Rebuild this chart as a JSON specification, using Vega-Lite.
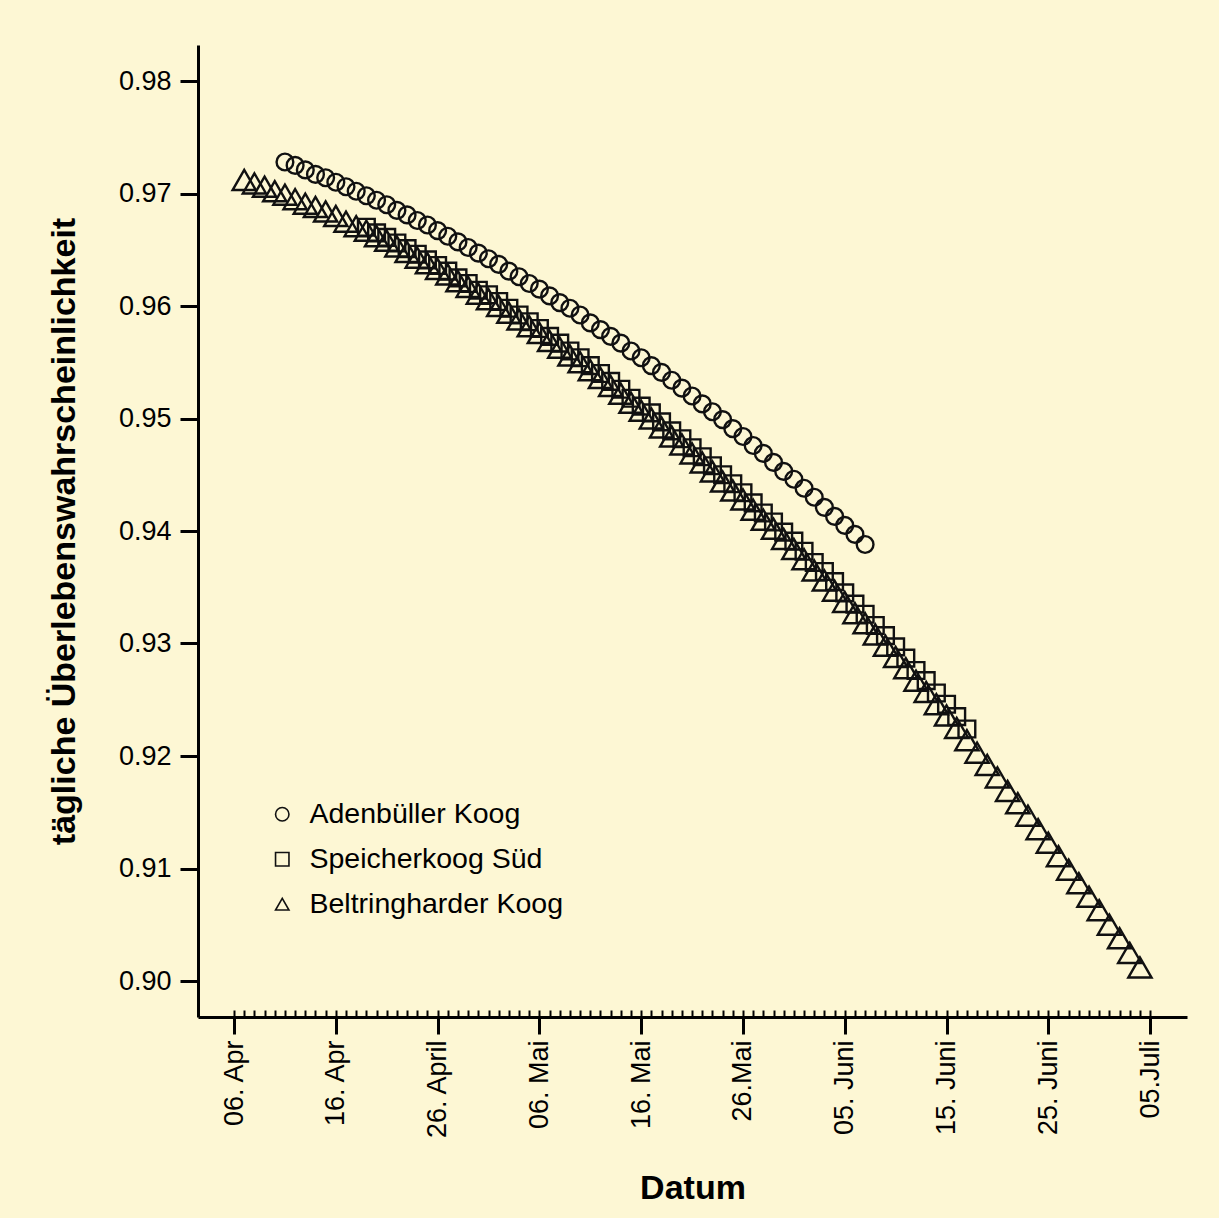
{
  "$schema": "https://vega.github.io/schema/vega-lite/v6.json",
  "width": 989,
  "height": 972,
  "autosize": {"type": "none"},
  "padding": {"left": 198, "top": 45, "right": 32, "bottom": 201},
  "background": "#FDF7D4",
  "config": {
    "view": {"stroke": null},
    "font": "Liberation Sans",
    "axis": {"labelFont": "Liberation Sans", "titleFont": "Liberation Sans", "labelColor": "#000", "titleColor": "#000", "domainColor": "#000", "tickColor": "#000", "grid": false},
    "legend": {"labelFont": "Liberation Sans", "labelColor": "#000"}
  },
  "data": {
    "values": [
      {"ort": "Adenbüller Koog", "datum": "2010-04-11", "p": 0.9728},
      {"ort": "Adenbüller Koog", "datum": "2010-04-12", "p": 0.9725},
      {"ort": "Adenbüller Koog", "datum": "2010-04-13", "p": 0.9721},
      {"ort": "Adenbüller Koog", "datum": "2010-04-14", "p": 0.9717},
      {"ort": "Adenbüller Koog", "datum": "2010-04-15", "p": 0.9714},
      {"ort": "Adenbüller Koog", "datum": "2010-04-16", "p": 0.9710},
      {"ort": "Adenbüller Koog", "datum": "2010-04-17", "p": 0.9706},
      {"ort": "Adenbüller Koog", "datum": "2010-04-18", "p": 0.9702},
      {"ort": "Adenbüller Koog", "datum": "2010-04-19", "p": 0.9698},
      {"ort": "Adenbüller Koog", "datum": "2010-04-20", "p": 0.9694},
      {"ort": "Adenbüller Koog", "datum": "2010-04-21", "p": 0.9690},
      {"ort": "Adenbüller Koog", "datum": "2010-04-22", "p": 0.9685},
      {"ort": "Adenbüller Koog", "datum": "2010-04-23", "p": 0.9681},
      {"ort": "Adenbüller Koog", "datum": "2010-04-24", "p": 0.9676},
      {"ort": "Adenbüller Koog", "datum": "2010-04-25", "p": 0.9672},
      {"ort": "Adenbüller Koog", "datum": "2010-04-26", "p": 0.9667},
      {"ort": "Adenbüller Koog", "datum": "2010-04-27", "p": 0.9662},
      {"ort": "Adenbüller Koog", "datum": "2010-04-28", "p": 0.9657},
      {"ort": "Adenbüller Koog", "datum": "2010-04-29", "p": 0.9652},
      {"ort": "Adenbüller Koog", "datum": "2010-04-30", "p": 0.9647},
      {"ort": "Adenbüller Koog", "datum": "2010-05-01", "p": 0.9642},
      {"ort": "Adenbüller Koog", "datum": "2010-05-02", "p": 0.9637},
      {"ort": "Adenbüller Koog", "datum": "2010-05-03", "p": 0.9631},
      {"ort": "Adenbüller Koog", "datum": "2010-05-04", "p": 0.9626},
      {"ort": "Adenbüller Koog", "datum": "2010-05-05", "p": 0.9620},
      {"ort": "Adenbüller Koog", "datum": "2010-05-06", "p": 0.9615},
      {"ort": "Adenbüller Koog", "datum": "2010-05-07", "p": 0.9609},
      {"ort": "Adenbüller Koog", "datum": "2010-05-08", "p": 0.9603},
      {"ort": "Adenbüller Koog", "datum": "2010-05-09", "p": 0.9598},
      {"ort": "Adenbüller Koog", "datum": "2010-05-10", "p": 0.9592},
      {"ort": "Adenbüller Koog", "datum": "2010-05-11", "p": 0.9585},
      {"ort": "Adenbüller Koog", "datum": "2010-05-12", "p": 0.9579},
      {"ort": "Adenbüller Koog", "datum": "2010-05-13", "p": 0.9573},
      {"ort": "Adenbüller Koog", "datum": "2010-05-14", "p": 0.9567},
      {"ort": "Adenbüller Koog", "datum": "2010-05-15", "p": 0.9560},
      {"ort": "Adenbüller Koog", "datum": "2010-05-16", "p": 0.9554},
      {"ort": "Adenbüller Koog", "datum": "2010-05-17", "p": 0.9547},
      {"ort": "Adenbüller Koog", "datum": "2010-05-18", "p": 0.9541},
      {"ort": "Adenbüller Koog", "datum": "2010-05-19", "p": 0.9534},
      {"ort": "Adenbüller Koog", "datum": "2010-05-20", "p": 0.9527},
      {"ort": "Adenbüller Koog", "datum": "2010-05-21", "p": 0.9520},
      {"ort": "Adenbüller Koog", "datum": "2010-05-22", "p": 0.9513},
      {"ort": "Adenbüller Koog", "datum": "2010-05-23", "p": 0.9506},
      {"ort": "Adenbüller Koog", "datum": "2010-05-24", "p": 0.9499},
      {"ort": "Adenbüller Koog", "datum": "2010-05-25", "p": 0.9491},
      {"ort": "Adenbüller Koog", "datum": "2010-05-26", "p": 0.9484},
      {"ort": "Adenbüller Koog", "datum": "2010-05-27", "p": 0.9476},
      {"ort": "Adenbüller Koog", "datum": "2010-05-28", "p": 0.9469},
      {"ort": "Adenbüller Koog", "datum": "2010-05-29", "p": 0.9461},
      {"ort": "Adenbüller Koog", "datum": "2010-05-30", "p": 0.9453},
      {"ort": "Adenbüller Koog", "datum": "2010-05-31", "p": 0.9446},
      {"ort": "Adenbüller Koog", "datum": "2010-06-01", "p": 0.9438},
      {"ort": "Adenbüller Koog", "datum": "2010-06-02", "p": 0.9430},
      {"ort": "Adenbüller Koog", "datum": "2010-06-03", "p": 0.9421},
      {"ort": "Adenbüller Koog", "datum": "2010-06-04", "p": 0.9413},
      {"ort": "Adenbüller Koog", "datum": "2010-06-05", "p": 0.9405},
      {"ort": "Adenbüller Koog", "datum": "2010-06-06", "p": 0.9397},
      {"ort": "Adenbüller Koog", "datum": "2010-06-07", "p": 0.9388},

      {"ort": "Speicherkoog Süd", "datum": "2010-04-19", "p": 0.9670},
      {"ort": "Speicherkoog Süd", "datum": "2010-04-20", "p": 0.9665},
      {"ort": "Speicherkoog Süd", "datum": "2010-04-21", "p": 0.9661},
      {"ort": "Speicherkoog Süd", "datum": "2010-04-22", "p": 0.9656},
      {"ort": "Speicherkoog Süd", "datum": "2010-04-23", "p": 0.9651},
      {"ort": "Speicherkoog Süd", "datum": "2010-04-24", "p": 0.9646},
      {"ort": "Speicherkoog Süd", "datum": "2010-04-25", "p": 0.9641},
      {"ort": "Speicherkoog Süd", "datum": "2010-04-26", "p": 0.9636},
      {"ort": "Speicherkoog Süd", "datum": "2010-04-27", "p": 0.9631},
      {"ort": "Speicherkoog Süd", "datum": "2010-04-28", "p": 0.9625},
      {"ort": "Speicherkoog Süd", "datum": "2010-04-29", "p": 0.9620},
      {"ort": "Speicherkoog Süd", "datum": "2010-04-30", "p": 0.9614},
      {"ort": "Speicherkoog Süd", "datum": "2010-05-01", "p": 0.9610},
      {"ort": "Speicherkoog Süd", "datum": "2010-05-02", "p": 0.9604},
      {"ort": "Speicherkoog Süd", "datum": "2010-05-03", "p": 0.9598},
      {"ort": "Speicherkoog Süd", "datum": "2010-05-04", "p": 0.9592},
      {"ort": "Speicherkoog Süd", "datum": "2010-05-05", "p": 0.9586},
      {"ort": "Speicherkoog Süd", "datum": "2010-05-06", "p": 0.9580},
      {"ort": "Speicherkoog Süd", "datum": "2010-05-07", "p": 0.9573},
      {"ort": "Speicherkoog Süd", "datum": "2010-05-08", "p": 0.9567},
      {"ort": "Speicherkoog Süd", "datum": "2010-05-09", "p": 0.9560},
      {"ort": "Speicherkoog Süd", "datum": "2010-05-10", "p": 0.9554},
      {"ort": "Speicherkoog Süd", "datum": "2010-05-11", "p": 0.9547},
      {"ort": "Speicherkoog Süd", "datum": "2010-05-12", "p": 0.9540},
      {"ort": "Speicherkoog Süd", "datum": "2010-05-13", "p": 0.9533},
      {"ort": "Speicherkoog Süd", "datum": "2010-05-14", "p": 0.9526},
      {"ort": "Speicherkoog Süd", "datum": "2010-05-15", "p": 0.9518},
      {"ort": "Speicherkoog Süd", "datum": "2010-05-16", "p": 0.9511},
      {"ort": "Speicherkoog Süd", "datum": "2010-05-17", "p": 0.9505},
      {"ort": "Speicherkoog Süd", "datum": "2010-05-18", "p": 0.9497},
      {"ort": "Speicherkoog Süd", "datum": "2010-05-19", "p": 0.9489},
      {"ort": "Speicherkoog Süd", "datum": "2010-05-20", "p": 0.9482},
      {"ort": "Speicherkoog Süd", "datum": "2010-05-21", "p": 0.9474},
      {"ort": "Speicherkoog Süd", "datum": "2010-05-22", "p": 0.9466},
      {"ort": "Speicherkoog Süd", "datum": "2010-05-23", "p": 0.9458},
      {"ort": "Speicherkoog Süd", "datum": "2010-05-24", "p": 0.9450},
      {"ort": "Speicherkoog Süd", "datum": "2010-05-25", "p": 0.9442},
      {"ort": "Speicherkoog Süd", "datum": "2010-05-26", "p": 0.9434},
      {"ort": "Speicherkoog Süd", "datum": "2010-05-27", "p": 0.9425},
      {"ort": "Speicherkoog Süd", "datum": "2010-05-28", "p": 0.9416},
      {"ort": "Speicherkoog Süd", "datum": "2010-05-29", "p": 0.9408},
      {"ort": "Speicherkoog Süd", "datum": "2010-05-30", "p": 0.9399},
      {"ort": "Speicherkoog Süd", "datum": "2010-05-31", "p": 0.9391},
      {"ort": "Speicherkoog Süd", "datum": "2010-06-01", "p": 0.9382},
      {"ort": "Speicherkoog Süd", "datum": "2010-06-02", "p": 0.9372},
      {"ort": "Speicherkoog Süd", "datum": "2010-06-03", "p": 0.9364},
      {"ort": "Speicherkoog Süd", "datum": "2010-06-04", "p": 0.9355},
      {"ort": "Speicherkoog Süd", "datum": "2010-06-05", "p": 0.9345},
      {"ort": "Speicherkoog Süd", "datum": "2010-06-06", "p": 0.9335},
      {"ort": "Speicherkoog Süd", "datum": "2010-06-07", "p": 0.9326},
      {"ort": "Speicherkoog Süd", "datum": "2010-06-08", "p": 0.9316},
      {"ort": "Speicherkoog Süd", "datum": "2010-06-09", "p": 0.9307},
      {"ort": "Speicherkoog Süd", "datum": "2010-06-10", "p": 0.9297},
      {"ort": "Speicherkoog Süd", "datum": "2010-06-11", "p": 0.9287},
      {"ort": "Speicherkoog Süd", "datum": "2010-06-12", "p": 0.9276},
      {"ort": "Speicherkoog Süd", "datum": "2010-06-13", "p": 0.9267},
      {"ort": "Speicherkoog Süd", "datum": "2010-06-14", "p": 0.9256},
      {"ort": "Speicherkoog Süd", "datum": "2010-06-15", "p": 0.9246},
      {"ort": "Speicherkoog Süd", "datum": "2010-06-16", "p": 0.9235},
      {"ort": "Speicherkoog Süd", "datum": "2010-06-17", "p": 0.9224},

      {"ort": "Beltringharder Koog", "datum": "2010-04-07", "p": 0.9712},
      {"ort": "Beltringharder Koog", "datum": "2010-04-08", "p": 0.9709},
      {"ort": "Beltringharder Koog", "datum": "2010-04-09", "p": 0.9706},
      {"ort": "Beltringharder Koog", "datum": "2010-04-10", "p": 0.9702},
      {"ort": "Beltringharder Koog", "datum": "2010-04-11", "p": 0.9699},
      {"ort": "Beltringharder Koog", "datum": "2010-04-12", "p": 0.9695},
      {"ort": "Beltringharder Koog", "datum": "2010-04-13", "p": 0.9691},
      {"ort": "Beltringharder Koog", "datum": "2010-04-14", "p": 0.9688},
      {"ort": "Beltringharder Koog", "datum": "2010-04-15", "p": 0.9684},
      {"ort": "Beltringharder Koog", "datum": "2010-04-16", "p": 0.9680},
      {"ort": "Beltringharder Koog", "datum": "2010-04-17", "p": 0.9675},
      {"ort": "Beltringharder Koog", "datum": "2010-04-18", "p": 0.9671},
      {"ort": "Beltringharder Koog", "datum": "2010-04-19", "p": 0.9667},
      {"ort": "Beltringharder Koog", "datum": "2010-04-20", "p": 0.9662},
      {"ort": "Beltringharder Koog", "datum": "2010-04-21", "p": 0.9658},
      {"ort": "Beltringharder Koog", "datum": "2010-04-22", "p": 0.9653},
      {"ort": "Beltringharder Koog", "datum": "2010-04-23", "p": 0.9648},
      {"ort": "Beltringharder Koog", "datum": "2010-04-24", "p": 0.9643},
      {"ort": "Beltringharder Koog", "datum": "2010-04-25", "p": 0.9638},
      {"ort": "Beltringharder Koog", "datum": "2010-04-26", "p": 0.9633},
      {"ort": "Beltringharder Koog", "datum": "2010-04-27", "p": 0.9628},
      {"ort": "Beltringharder Koog", "datum": "2010-04-28", "p": 0.9622},
      {"ort": "Beltringharder Koog", "datum": "2010-04-29", "p": 0.9617},
      {"ort": "Beltringharder Koog", "datum": "2010-04-30", "p": 0.9611},
      {"ort": "Beltringharder Koog", "datum": "2010-05-01", "p": 0.9606},
      {"ort": "Beltringharder Koog", "datum": "2010-05-02", "p": 0.9600},
      {"ort": "Beltringharder Koog", "datum": "2010-05-03", "p": 0.9594},
      {"ort": "Beltringharder Koog", "datum": "2010-05-04", "p": 0.9588},
      {"ort": "Beltringharder Koog", "datum": "2010-05-05", "p": 0.9582},
      {"ort": "Beltringharder Koog", "datum": "2010-05-06", "p": 0.9576},
      {"ort": "Beltringharder Koog", "datum": "2010-05-07", "p": 0.9569},
      {"ort": "Beltringharder Koog", "datum": "2010-05-08", "p": 0.9563},
      {"ort": "Beltringharder Koog", "datum": "2010-05-09", "p": 0.9556},
      {"ort": "Beltringharder Koog", "datum": "2010-05-10", "p": 0.9550},
      {"ort": "Beltringharder Koog", "datum": "2010-05-11", "p": 0.9543},
      {"ort": "Beltringharder Koog", "datum": "2010-05-12", "p": 0.9536},
      {"ort": "Beltringharder Koog", "datum": "2010-05-13", "p": 0.9529},
      {"ort": "Beltringharder Koog", "datum": "2010-05-14", "p": 0.9522},
      {"ort": "Beltringharder Koog", "datum": "2010-05-15", "p": 0.9514},
      {"ort": "Beltringharder Koog", "datum": "2010-05-16", "p": 0.9507},
      {"ort": "Beltringharder Koog", "datum": "2010-05-17", "p": 0.9500},
      {"ort": "Beltringharder Koog", "datum": "2010-05-18", "p": 0.9492},
      {"ort": "Beltringharder Koog", "datum": "2010-05-19", "p": 0.9484},
      {"ort": "Beltringharder Koog", "datum": "2010-05-20", "p": 0.9477},
      {"ort": "Beltringharder Koog", "datum": "2010-05-21", "p": 0.9469},
      {"ort": "Beltringharder Koog", "datum": "2010-05-22", "p": 0.9461},
      {"ort": "Beltringharder Koog", "datum": "2010-05-23", "p": 0.9453},
      {"ort": "Beltringharder Koog", "datum": "2010-05-24", "p": 0.9444},
      {"ort": "Beltringharder Koog", "datum": "2010-05-25", "p": 0.9436},
      {"ort": "Beltringharder Koog", "datum": "2010-05-26", "p": 0.9428},
      {"ort": "Beltringharder Koog", "datum": "2010-05-27", "p": 0.9419},
      {"ort": "Beltringharder Koog", "datum": "2010-05-28", "p": 0.9410},
      {"ort": "Beltringharder Koog", "datum": "2010-05-29", "p": 0.9402},
      {"ort": "Beltringharder Koog", "datum": "2010-05-30", "p": 0.9393},
      {"ort": "Beltringharder Koog", "datum": "2010-05-31", "p": 0.9384},
      {"ort": "Beltringharder Koog", "datum": "2010-06-01", "p": 0.9375},
      {"ort": "Beltringharder Koog", "datum": "2010-06-02", "p": 0.9365},
      {"ort": "Beltringharder Koog", "datum": "2010-06-03", "p": 0.9356},
      {"ort": "Beltringharder Koog", "datum": "2010-06-04", "p": 0.9347},
      {"ort": "Beltringharder Koog", "datum": "2010-06-05", "p": 0.9337},
      {"ort": "Beltringharder Koog", "datum": "2010-06-06", "p": 0.9327},
      {"ort": "Beltringharder Koog", "datum": "2010-06-07", "p": 0.9318},
      {"ort": "Beltringharder Koog", "datum": "2010-06-08", "p": 0.9308},
      {"ort": "Beltringharder Koog", "datum": "2010-06-09", "p": 0.9298},
      {"ort": "Beltringharder Koog", "datum": "2010-06-10", "p": 0.9288},
      {"ort": "Beltringharder Koog", "datum": "2010-06-11", "p": 0.9278},
      {"ort": "Beltringharder Koog", "datum": "2010-06-12", "p": 0.9267},
      {"ort": "Beltringharder Koog", "datum": "2010-06-13", "p": 0.9257},
      {"ort": "Beltringharder Koog", "datum": "2010-06-14", "p": 0.9246},
      {"ort": "Beltringharder Koog", "datum": "2010-06-15", "p": 0.9236},
      {"ort": "Beltringharder Koog", "datum": "2010-06-16", "p": 0.9225},
      {"ort": "Beltringharder Koog", "datum": "2010-06-17", "p": 0.9214},
      {"ort": "Beltringharder Koog", "datum": "2010-06-18", "p": 0.9203},
      {"ort": "Beltringharder Koog", "datum": "2010-06-19", "p": 0.9192},
      {"ort": "Beltringharder Koog", "datum": "2010-06-20", "p": 0.9181},
      {"ort": "Beltringharder Koog", "datum": "2010-06-21", "p": 0.9169},
      {"ort": "Beltringharder Koog", "datum": "2010-06-22", "p": 0.9158},
      {"ort": "Beltringharder Koog", "datum": "2010-06-23", "p": 0.9147},
      {"ort": "Beltringharder Koog", "datum": "2010-06-24", "p": 0.9135},
      {"ort": "Beltringharder Koog", "datum": "2010-06-25", "p": 0.9123},
      {"ort": "Beltringharder Koog", "datum": "2010-06-26", "p": 0.9111},
      {"ort": "Beltringharder Koog", "datum": "2010-06-27", "p": 0.9099},
      {"ort": "Beltringharder Koog", "datum": "2010-06-28", "p": 0.9087},
      {"ort": "Beltringharder Koog", "datum": "2010-06-29", "p": 0.9075},
      {"ort": "Beltringharder Koog", "datum": "2010-06-30", "p": 0.9063},
      {"ort": "Beltringharder Koog", "datum": "2010-07-01", "p": 0.9050},
      {"ort": "Beltringharder Koog", "datum": "2010-07-02", "p": 0.9038},
      {"ort": "Beltringharder Koog", "datum": "2010-07-03", "p": 0.9025},
      {"ort": "Beltringharder Koog", "datum": "2010-07-04", "p": 0.9012}
    ]
  },
  "layer": [
    {
      "mark": {"type": "point", "filled": false, "color": "#111", "strokeWidth": 2.4, "opacity": 1},
      "encoding": {
        "x": {
          "field": "datum", "type": "temporal",
          "scale": {"type": "utc", "domain": [{"year": 2010, "month": 4, "date": 2, "hours": 11, "utc": true}, {"year": 2010, "month": 7, "date": 8, "hours": 15, "utc": true}], "nice": false},
          "axis": {
            "orient": "bottom",
            "values": [
              {"year": 2010, "month": 4, "date": 6, "utc": true},
              {"year": 2010, "month": 4, "date": 16, "utc": true},
              {"year": 2010, "month": 4, "date": 26, "utc": true},
              {"year": 2010, "month": 5, "date": 6, "utc": true},
              {"year": 2010, "month": 5, "date": 16, "utc": true},
              {"year": 2010, "month": 5, "date": 26, "utc": true},
              {"year": 2010, "month": 6, "date": 5, "utc": true},
              {"year": 2010, "month": 6, "date": 15, "utc": true},
              {"year": 2010, "month": 6, "date": 25, "utc": true},
              {"year": 2010, "month": 7, "date": 5, "utc": true}
            ],
            "labelExpr": "['06. Apr','16. Apr','26. April','06. Mai','16. Mai','26.Mai','05. Juni','15. Juni','25. Juni','05.Juli'][round((datum.value - utc(2010,3,6))/864000000)]",
            "labelAngle": -90, "labelAlign": "right", "labelBaseline": "middle",
            "labelFontSize": 27, "labelPadding": 6, "labelOverlap": false, "labelFlush": false,
            "tickSize": 17, "tickWidth": 3, "domainWidth": 3,
            "title": "Datum", "titleFontSize": 34, "titleFontWeight": "bold", "titlePadding": 32
          }
        },
        "y": {
          "field": "p", "type": "quantitative",
          "scale": {"domain": [0.8968, 0.9832], "nice": false, "zero": false},
          "axis": {
            "values": [0.90, 0.91, 0.92, 0.93, 0.94, 0.95, 0.96, 0.97, 0.98],
            "format": ".2f",
            "labelFontSize": 27, "labelPadding": 9,
            "tickSize": 18, "tickWidth": 3, "domainWidth": 3,
            "title": "tägliche Überlebenswahrscheinlichkeit", "titleFontSize": 34, "titleFontWeight": "bold", "titlePadding": 37
          }
        },
        "shape": {
          "field": "ort", "type": "nominal",
          "scale": {"domain": ["Adenbüller Koog", "Speicherkoog Süd", "Beltringharder Koog"], "range": ["circle", "square", "triangle-up"]},
          "legend": {
            "orient": "none", "legendX": 70, "legendY": 755,
            "title": null, "padding": 0,
            "labelFontSize": 28.5, "labelOffset": 13, "labelLimit": 0, "rowPadding": 16,
            "symbolSize": 180, "symbolStrokeColor": "#111", "symbolFillColor": "transparent", "symbolStrokeWidth": 1.6
          }
        },
        "size": {
          "condition": {"test": "datum.ort === 'Beltringharder Koog'", "value": 540},
          "value": 280
        }
      }
    },
    {
      "mark": {"type": "point", "opacity": 0},
      "encoding": {
        "x": {
          "field": "datum", "type": "temporal",
          "axis": {
            "orient": "bottom",
            "labels": false, "domain": false, "title": null,
            "tickSize": -7, "tickWidth": 2,
            "values": [
              {"year": 2010, "month": 4, "date": 6, "utc": true}, {"year": 2010, "month": 4, "date": 7, "utc": true}, {"year": 2010, "month": 4, "date": 8, "utc": true}, {"year": 2010, "month": 4, "date": 9, "utc": true}, {"year": 2010, "month": 4, "date": 10, "utc": true},
              {"year": 2010, "month": 4, "date": 11, "utc": true}, {"year": 2010, "month": 4, "date": 12, "utc": true}, {"year": 2010, "month": 4, "date": 13, "utc": true}, {"year": 2010, "month": 4, "date": 14, "utc": true}, {"year": 2010, "month": 4, "date": 15, "utc": true},
              {"year": 2010, "month": 4, "date": 16, "utc": true}, {"year": 2010, "month": 4, "date": 17, "utc": true}, {"year": 2010, "month": 4, "date": 18, "utc": true}, {"year": 2010, "month": 4, "date": 19, "utc": true}, {"year": 2010, "month": 4, "date": 20, "utc": true},
              {"year": 2010, "month": 4, "date": 21, "utc": true}, {"year": 2010, "month": 4, "date": 22, "utc": true}, {"year": 2010, "month": 4, "date": 23, "utc": true}, {"year": 2010, "month": 4, "date": 24, "utc": true}, {"year": 2010, "month": 4, "date": 25, "utc": true},
              {"year": 2010, "month": 4, "date": 26, "utc": true}, {"year": 2010, "month": 4, "date": 27, "utc": true}, {"year": 2010, "month": 4, "date": 28, "utc": true}, {"year": 2010, "month": 4, "date": 29, "utc": true}, {"year": 2010, "month": 4, "date": 30, "utc": true},
              {"year": 2010, "month": 5, "date": 1, "utc": true}, {"year": 2010, "month": 5, "date": 2, "utc": true}, {"year": 2010, "month": 5, "date": 3, "utc": true}, {"year": 2010, "month": 5, "date": 4, "utc": true}, {"year": 2010, "month": 5, "date": 5, "utc": true},
              {"year": 2010, "month": 5, "date": 6, "utc": true}, {"year": 2010, "month": 5, "date": 7, "utc": true}, {"year": 2010, "month": 5, "date": 8, "utc": true}, {"year": 2010, "month": 5, "date": 9, "utc": true}, {"year": 2010, "month": 5, "date": 10, "utc": true},
              {"year": 2010, "month": 5, "date": 11, "utc": true}, {"year": 2010, "month": 5, "date": 12, "utc": true}, {"year": 2010, "month": 5, "date": 13, "utc": true}, {"year": 2010, "month": 5, "date": 14, "utc": true}, {"year": 2010, "month": 5, "date": 15, "utc": true},
              {"year": 2010, "month": 5, "date": 16, "utc": true}, {"year": 2010, "month": 5, "date": 17, "utc": true}, {"year": 2010, "month": 5, "date": 18, "utc": true}, {"year": 2010, "month": 5, "date": 19, "utc": true}, {"year": 2010, "month": 5, "date": 20, "utc": true},
              {"year": 2010, "month": 5, "date": 21, "utc": true}, {"year": 2010, "month": 5, "date": 22, "utc": true}, {"year": 2010, "month": 5, "date": 23, "utc": true}, {"year": 2010, "month": 5, "date": 24, "utc": true}, {"year": 2010, "month": 5, "date": 25, "utc": true},
              {"year": 2010, "month": 5, "date": 26, "utc": true}, {"year": 2010, "month": 5, "date": 27, "utc": true}, {"year": 2010, "month": 5, "date": 28, "utc": true}, {"year": 2010, "month": 5, "date": 29, "utc": true}, {"year": 2010, "month": 5, "date": 30, "utc": true},
              {"year": 2010, "month": 5, "date": 31, "utc": true},
              {"year": 2010, "month": 6, "date": 1, "utc": true}, {"year": 2010, "month": 6, "date": 2, "utc": true}, {"year": 2010, "month": 6, "date": 3, "utc": true}, {"year": 2010, "month": 6, "date": 4, "utc": true}, {"year": 2010, "month": 6, "date": 5, "utc": true},
              {"year": 2010, "month": 6, "date": 6, "utc": true}, {"year": 2010, "month": 6, "date": 7, "utc": true}, {"year": 2010, "month": 6, "date": 8, "utc": true}, {"year": 2010, "month": 6, "date": 9, "utc": true}, {"year": 2010, "month": 6, "date": 10, "utc": true},
              {"year": 2010, "month": 6, "date": 11, "utc": true}, {"year": 2010, "month": 6, "date": 12, "utc": true}, {"year": 2010, "month": 6, "date": 13, "utc": true}, {"year": 2010, "month": 6, "date": 14, "utc": true}, {"year": 2010, "month": 6, "date": 15, "utc": true},
              {"year": 2010, "month": 6, "date": 16, "utc": true}, {"year": 2010, "month": 6, "date": 17, "utc": true}, {"year": 2010, "month": 6, "date": 18, "utc": true}, {"year": 2010, "month": 6, "date": 19, "utc": true}, {"year": 2010, "month": 6, "date": 20, "utc": true},
              {"year": 2010, "month": 6, "date": 21, "utc": true}, {"year": 2010, "month": 6, "date": 22, "utc": true}, {"year": 2010, "month": 6, "date": 23, "utc": true}, {"year": 2010, "month": 6, "date": 24, "utc": true}, {"year": 2010, "month": 6, "date": 25, "utc": true},
              {"year": 2010, "month": 6, "date": 26, "utc": true}, {"year": 2010, "month": 6, "date": 27, "utc": true}, {"year": 2010, "month": 6, "date": 28, "utc": true}, {"year": 2010, "month": 6, "date": 29, "utc": true}, {"year": 2010, "month": 6, "date": 30, "utc": true},
              {"year": 2010, "month": 7, "date": 1, "utc": true}, {"year": 2010, "month": 7, "date": 2, "utc": true}, {"year": 2010, "month": 7, "date": 3, "utc": true}, {"year": 2010, "month": 7, "date": 4, "utc": true}, {"year": 2010, "month": 7, "date": 5, "utc": true}
            ]
          }
        },
        "y": {"field": "p", "type": "quantitative"}
      }
    }
  ],
  "resolve": {"axis": {"x": "independent"}}
}
